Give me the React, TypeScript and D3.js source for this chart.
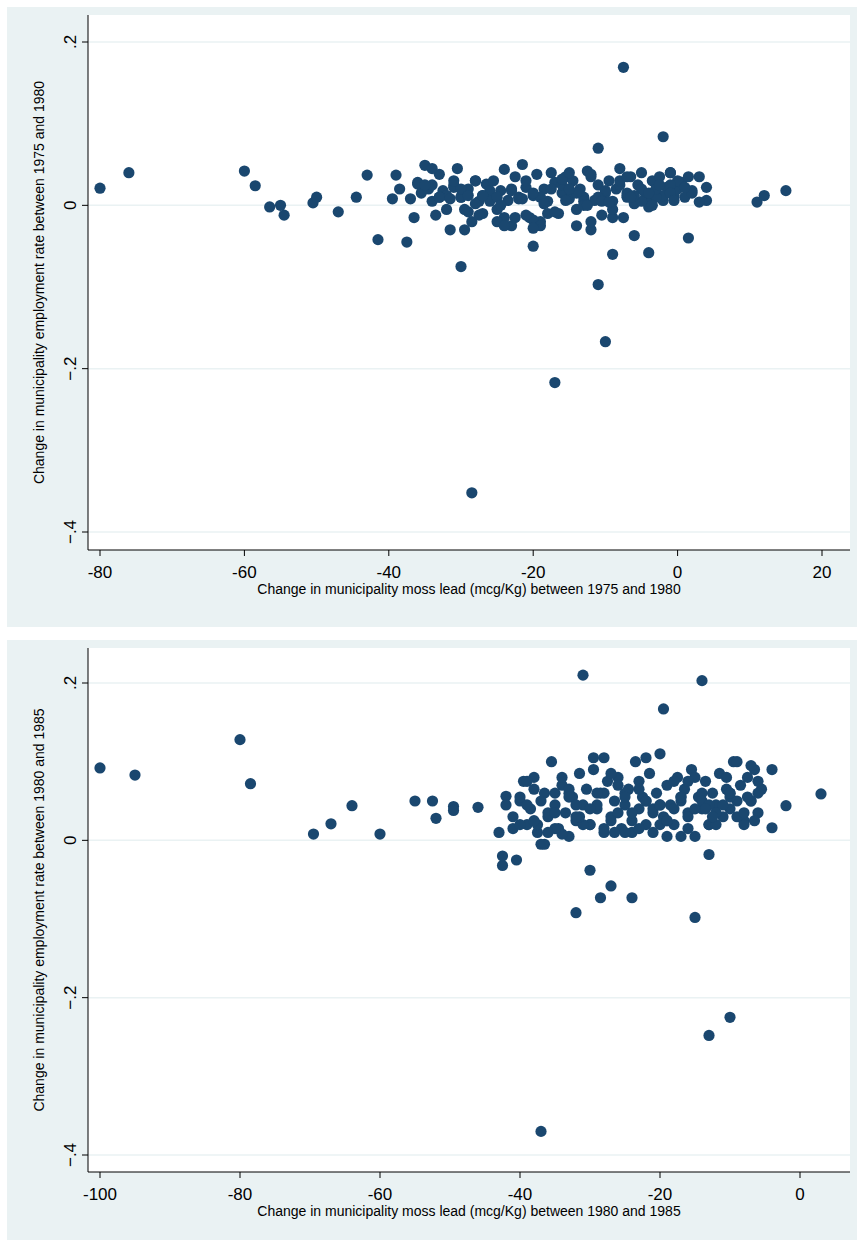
import * as d3 from 'd3';

// panel 1: change 1975-1980
const lead1 = [-80,-76,-60,-58.5,-56.5,-55,-54.5,-50.5,-50,-47,-44.5,-43,-41.5,-39.5,-39,-38.5,-37.5,-36.5,-30,-28.5,-17,-10,-11,-11,-7.5,-2,11,12,15,4,1.5,-4,-9,-6,-20,
  -37,-36,-35.5,-35,-34.5,-34,-33.5,-33,-32.5,-32,-31.5,-31,-30.5,-30,-29.5,-29,-28.5,-28,-27.5,-27,-26.5,-26,-25.5,-25,-24.5,-24,-23.5,-23,-22.5,-22,-21.5,-21,-20.5,-20,-19.5,-19,-18.5,-18,-17.5,-17,-16.5,-16,-15.5,-15,-14.5,-14,-13.5,-13,-12.5,-12,-11.5,-11,-10.5,-10,-9.5,-9,-8.5,-8,-7.5,-7,-6.5,-6,-5.5,-5,-4.5,-4,-3.5,-3,-2.5,-2,-1.5,-1,-0.5,0,0.5,1,1.5,2,3,4,
  -36,-34,-32,-30,-28,-26,-24,-22,-20,-18,-16,-14,-12,-10,-8,-6,-4,-2,0,2,
  -35,-33,-31,-29,-27,-25,-23,-21,-19,-17,-15,-13,-11,-9,-7,-5,-3,-1,1,3,
  -33,-30,-28,-26,-24,-21,-19,-16,-14,-12,-9,-7,-5,-3,-1,
  -31.5,-29.5,-27.5,-25,-22.5,-20,-17.5,-13,-10.5,-8,-6,-4,-2.5,
  -29,-23,-20,-15,-12,-7,-1,
  -34,-31,-27,-24.5,-21.5,-18.5,-15.5,-12.5,-9.5,-6.5,-3.5,-0.5];
const emp1 = [0.021,0.04,0.042,0.024,-0.002,0,-0.012,0.003,0.01,-0.008,0.01,0.037,-0.042,0.008,0.037,0.02,-0.045,-0.015,-0.075,-0.352,-0.217,-0.167,-0.097,0.07,0.169,0.084,0.004,0.012,0.018,0.006,-0.04,-0.058,-0.06,-0.037,-0.05,
  0.008,0.028,0.015,0.049,0.02,0.005,-0.012,0.038,0.018,0.012,-0.03,0.025,0.045,0.01,-0.03,0.02,-0.02,0.03,0.005,-0.01,0.026,0.015,0.03,-0.005,0.018,0.044,0.006,-0.025,0.035,0.01,0.05,0.022,-0.015,0.012,0.038,-0.02,0.02,0.005,0.04,0.028,-0.01,0.015,0.035,0.008,0.03,-0.005,0.02,0.01,0.042,-0.03,0.006,0.025,-0.012,0.015,0.03,0.005,0.02,0.045,-0.015,0.01,0.035,0.002,0.025,0.04,0.015,0.008,0.03,0.018,0.035,0.006,0.022,0.04,0.012,0.02,0.028,0.01,0.035,0.018,0.004,0.022,0.026,0.025,
  -0.005,0.01,0.002,0.018,-0.015,0.008,-0.018,-0.01,0.025,0.015,-0.02,0.018,0.025,0.005,-0.002,0.012,0.03,0.015,0.025,0.01,
  0.022,-0.008,0.012,-0.02,0.02,-0.012,0.01,-0.008,0.02,0.005,0.01,-0.015,0.012,0.02,0.01,0.025,0.022,0.035,0.01,0.02,
  0.03,0.005,-0.025,0.03,-0.025,0.032,-0.025,0.035,-0.005,0.015,0.005,0.02,0.015,0.008,-0.005,
  -0.012,0.01,-0.015,0.015,0.02,0.0,0.005,0.03,0.012,0.015,0.025,0.012,0.018,
  -0.028,0.04,0.038,0.035,0.04,0.045,0.03,
  0.012,0.0,0.008,0.002,0.006,0.0,0.004,0.01,0.0,0.006,0.012,0.015];

// panel 2: change 1980-1985
const lead2 = [-100,-95,-80,-78.5,-69.5,-67,-64,-60,-55,-52.5,-52,-49.5,-49.5,-46,-37,-31,-14,-19.5,-32,-24,-28.5,-27,-15,-13,-10,3,-2,-4,-4,-42.5,-42.5,-40.5,-13,-30,
  -43,-42,-41,-40,-39.5,-39,-38.5,-38,-37.5,-37,-36.5,-36,-35.5,-35,-34.5,-34,-33.5,-33,-32.5,-32,-31.5,-31,-30.5,-30,-29.5,-29,-28.5,-28,-27.5,-27,-26.5,-26,-25.5,-25,-24.5,-24,-23.5,-23,-22.5,-22,-21.5,-21,-20.5,-20,-19.5,-19,-18.5,-18,-17.5,-17,-16.5,-16,-15.5,-15,-14.5,-14,-13.5,-13,-12.5,-12,-11.5,-11,-10.5,-10,-9.5,-9,-8.5,-8,-7.5,-7,-6.5,-6,-5.5,
  -42,-40,-38,-36,-34,-32,-30,-28,-26,-24,-22,-20,-18,-16,-14,-12,-10,-8,-6,
  -41,-39,-37,-35,-33,-31,-29,-27,-25,-23,-21,-19,-17,-15,-13,-11,-9,-7,
  -40,-37.5,-35,-33,-30,-28,-26,-24,-22,-20,-18,-16,-14,-12,-10,-8,-6,
  -39,-36,-34,-31.5,-29,-27,-25,-23,-21,-19,-17,-15,-12.5,-10.5,-7.5,
  -38,-35,-32,-28,-25,-22,-19,-16,-13,-9,-6.5,
  -36.5,-33,-29.5,-26.5,-23,-20,-17,-13.5,-10,-7];
const emp2 = [0.092,0.083,0.128,0.072,0.008,0.021,0.044,0.008,0.05,0.05,0.028,0.043,0.038,0.042,-0.37,0.21,0.203,0.167,-0.092,-0.073,-0.073,-0.058,-0.098,-0.248,-0.225,0.059,0.044,0.016,0.09,-0.032,-0.02,-0.025,-0.018,-0.038,
  0.01,0.056,0.015,0.05,0.075,0.02,0.04,0.08,0.01,-0.005,0.06,0.03,0.1,0.045,0.015,0.07,0.035,0.005,0.055,0.025,0.085,0.045,0.065,0.02,0.09,0.04,0.06,0.01,0.075,0.03,0.05,0.08,0.015,0.045,0.065,0.025,0.1,0.04,0.055,0.02,0.085,0.035,0.06,0.11,0.03,0.07,0.045,0.02,0.08,0.05,0.065,0.035,0.09,0.005,0.055,0.04,0.075,0.02,0.06,0.045,0.085,0.03,0.065,0.04,0.1,0.05,0.07,0.025,0.08,0.05,0.09,0.035,0.065,
  0.045,0.02,0.065,0.035,0.008,0.045,0.02,0.06,0.035,0.01,0.05,0.02,0.04,0.03,0.06,0.035,0.055,0.02,0.06,
  0.03,0.045,0.05,0.015,0.06,0.02,0.045,0.025,0.06,0.015,0.04,0.025,0.055,0.04,0.02,0.045,0.03,0.05,
  0.055,0.02,0.035,0.065,0.04,0.015,0.07,0.035,0.05,0.045,0.075,0.015,0.05,0.02,0.06,0.035,0.075,
  0.075,0.01,0.08,0.03,0.06,0.085,0.01,0.075,0.01,0.025,0.055,0.08,0.03,0.08,0.055,
  0.025,0.06,0.03,0.105,0.055,0.105,0.005,0.075,0.045,0.1,0.025,
  -0.005,0.055,0.105,0.01,0.065,0.045,0.005,0.04,0.06,0.095];

const xTicks1 = [-80, -60, -40, -20, 0, 20];
const xTicks2 = [-100, -80, -60, -40, -20, 0];
const yTicks = [0.2, 0, -0.2, -0.4];

const fmtY = (v: number) => (v === 0 ? '0' : d3.format('.1f')(v).replace('0.', '.'));

interface PanelProps {
  top: number;
  bottom: number;
  axisY: number;
  xs: number[];
  ys: number[];
  xDomain: [number, number];
  xRange: [number, number];
  yRange: [number, number];
  xTicks: number[];
  xTitle: string;
  yTitle: string;
}

const Panel = ({ top, bottom, axisY, xs, ys, xDomain, xRange, yRange, xTicks, xTitle, yTitle }: PanelProps) => {
  const x = d3.scaleLinear().domain(xDomain).range(xRange);
  const y = d3.scaleLinear().domain([0.2, -0.4]).range(yRange);
  const plotTop = top + 8;
  const yMid = (plotTop + axisY) / 2;
  return (
    <g>
      <rect x={7} y={top} width={850} height={bottom - top} fill="#eaf2f3" />
      <rect x={88} y={plotTop} width={762} height={axisY - plotTop} fill="#fff" />
      {yTicks.map((t) => (
        <line key={t} x1={88} x2={850} y1={y(t)} y2={y(t)} stroke="#eaf2f3" strokeWidth={1.5} />
      ))}
      {xs.map((v, i) => (
        <circle key={i} cx={x(v)} cy={y(ys[i])} r={5.6} fill="#1a476f" />
      ))}
      <line x1={88} x2={88} y1={plotTop} y2={axisY} stroke="#000" />
      <line x1={88} x2={850} y1={axisY} y2={axisY} stroke="#000" />
      {yTicks.map((t) => (
        <g key={t}>
          <line x1={82} x2={88} y1={y(t)} y2={y(t)} stroke="#000" />
          <text transform={`translate(76,${y(t)}) rotate(-90)`} textAnchor="middle" fontSize={17}>
            {fmtY(t)}
          </text>
        </g>
      ))}
      {xTicks.map((t) => (
        <g key={t}>
          <line x1={x(t)} x2={x(t)} y1={axisY} y2={axisY + 6} stroke="#000" />
          <text x={x(t)} y={axisY + 28} textAnchor="middle" fontSize={17}>
            {t}
          </text>
        </g>
      ))}
      <text x={469} y={axisY + 44} textAnchor="middle" fontSize={14}>
        {xTitle}
      </text>
      <text transform={`translate(44,${yMid}) rotate(-90)`} textAnchor="middle" fontSize={14}>
        {yTitle}
      </text>
    </g>
  );
};

export default function App() {
  return (
    <svg
      width={861}
      height={1246}
      style={{ position: 'absolute', left: 0, top: 0, fontFamily: 'Arial, "Liberation Sans", sans-serif' }}
    >
      <rect width={861} height={1246} fill="#fff" />
      <Panel
        top={7}
        bottom={627}
        axisY={550}
        xs={lead1}
        ys={emp1}
        xDomain={[-80, 20]}
        xRange={[100, 822]}
        yRange={[42, 532]}
        xTicks={xTicks1}
        xTitle="Change in municipality moss lead (mcg/Kg) between 1975 and 1980"
        yTitle="Change in municipality employment rate between 1975 and 1980"
      />
      <Panel
        top={640}
        bottom={1240}
        axisY={1172}
        xs={lead2}
        ys={emp2}
        xDomain={[-100, 0]}
        xRange={[100, 800]}
        yRange={[683, 1155]}
        xTicks={xTicks2}
        xTitle="Change in municipality moss lead (mcg/Kg) between 1980 and 1985"
        yTitle="Change in municipality employment rate between 1980 and 1985"
      />
    </svg>
  );
}
